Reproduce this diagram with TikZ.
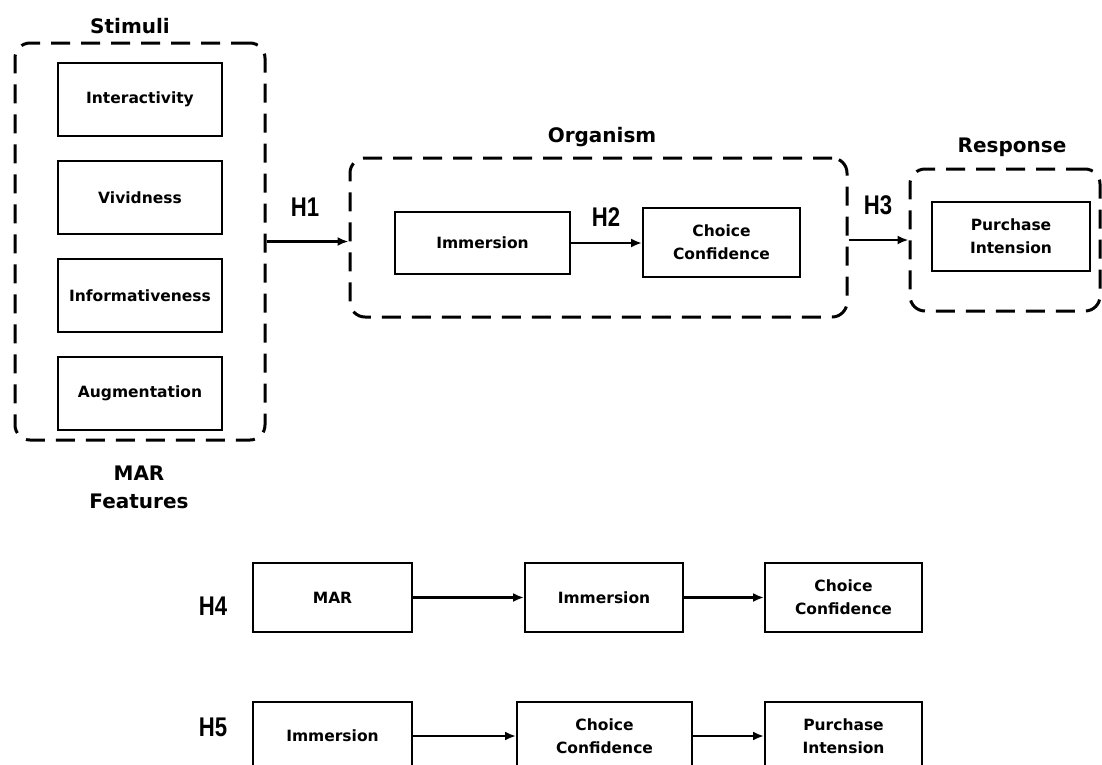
\documentclass[tikz,border=0pt]{standalone}
\usepackage{fontspec}
\setmainfont{DejaVu Sans}
\newfontfamily\hfont[FakeStretch=0.82]{Liberation Sans}
\usepackage{tikz}
\usetikzlibrary{arrows.meta,positioning}

\begin{document}
\begin{tikzpicture}[
  x=1pt,y=-1pt,
  node distance=23pt,
  block/.style={rectangle,draw=black,line width=2pt,fill=white,inner sep=0pt,
    minimum width=159pt,minimum height=69pt,align=center,
    font=\fontsize{15.5}{23}\selectfont\bfseries},
  groupbox/.style={rectangle,draw=black,line width=3pt,rounded corners=15pt,
    dash pattern=on 19pt off 11pt,inner sep=0pt},
  title/.style={anchor=base,align=center,font=\fontsize{20}{28}\selectfont\bfseries},
  hlabel/.style={font=\hfont\fontsize{27}{30}\selectfont\bfseries},
  arrow/.style={-{Latex[length=11pt,width=9pt]},line width=2.2pt},
]
\useasboundingbox (0,0) rectangle (1102,764);
\clip (0,0) rectangle (1102,764);

% Stimuli group
\node[groupbox,minimum width=250pt,minimum height=397pt] (stim) at (140,241.5) {};
\node[block,minimum width=164pt,minimum height=73pt] (int) at (140,99.5) {Interactivity};
\node[block,minimum width=164pt,minimum height=73pt,below=of int] (viv) {Vividness};
\node[block,minimum width=164pt,minimum height=73pt,below=of viv] (inf) {Informativeness};
\node[block,minimum width=164pt,minimum height=73pt,below=of inf] (aug) {Augmentation};
\node[title] (stimt) at (130,33) {Stimuli};
\node[title] (mart) at (139,508) {MAR\\Features};

% Organism group
\node[groupbox,minimum width=497pt,minimum height=159pt] (org) at (598.5,237.5) {};
\node[block,minimum width=175pt,minimum height=62pt] (imm) at (482.5,243) {Immersion};
\node[block,minimum width=157pt] (cc) at (721.5,242.5) {Choice\\Confidence};
\node[title] (orgt) at (602,142) {Organism};

% Response group
\node[groupbox,minimum width=190pt,minimum height=142pt] (resp) at (1005,240) {};
\node[block,minimum width=158pt] (pi) at (1011,236.5) {Purchase\\Intension};
\node[title] (respt) at (1012,152) {Response};

% Hypotheses
\node[hlabel] (h1) at (305,207) {H1};
\node[hlabel] (h2) at (606,217) {H2};
\node[hlabel] (h3) at (878,205) {H3};

\draw[arrow] (stim.east) -- (org.west |- stim.east);
\draw[arrow] (imm) -- (cc.west |- imm.east);
\draw[arrow] (org.east |- 0,240) -- (resp.west |- 0,240);

% Mediation paths
\node[hlabel] (h4) at (213,606) {H4};
\node[block] (mar) at (332.5,597.5) {MAR};
\node[block,minimum width=158pt] (imm2) at (604,597.5) {Immersion};
\node[block,minimum width=157pt] (cc2) at (843.5,597.5) {Choice\\Confidence};

\node[hlabel] (h5) at (213,727) {H5};
\node[block] (imm3) at (332.5,736) {Immersion};
\node[block,minimum width=175pt] (cc3) at (604.5,736) {Choice\\Confidence};
\node[block,minimum width=157pt] (pi3) at (843.5,736) {Purchase\\Intension};

\draw[arrow] (mar) -- (imm2);
\draw[arrow] (imm2) -- (cc2);
\draw[arrow] (imm3) -- (cc3);
\draw[arrow] (cc3) -- (pi3);

\end{tikzpicture}
\end{document}
